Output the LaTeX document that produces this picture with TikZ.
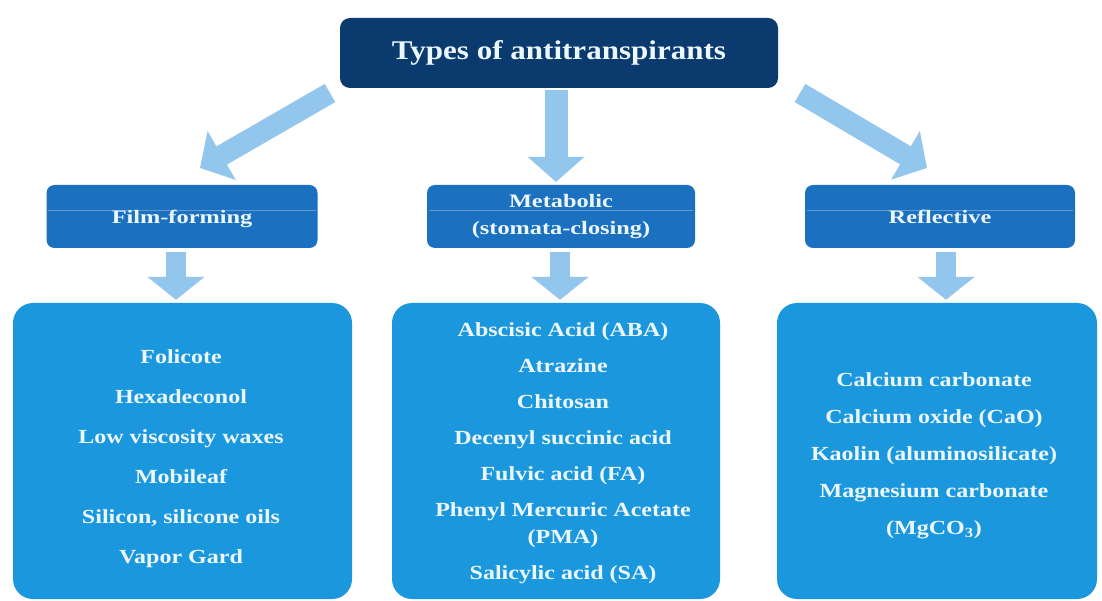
\documentclass[tikz,border=0pt]{standalone}
\usepackage{fontspec}
\setmainfont{Liberation Serif}
\usetikzlibrary{arrows.meta}
\definecolor{topc}{RGB}{11,58,110}
\definecolor{midc}{RGB}{27,112,191}
\definecolor{botc}{RGB}{27,152,221}
\definecolor{arrc}{RGB}{146,198,236}
\definecolor{txtc}{RGB}{236,247,253}
\tikzset{
  box/.style={rounded corners=#1, draw=none, inner sep=0pt},
  topbox/.style={box=10pt, fill=topc},
  midbox/.style={box=8pt, fill=midc},
  botbox/.style={box=20pt, fill=botc},
  txt/.style={text=txtc, align=center, inner sep=0pt},
  toptxt/.style={txt, font=\fontsize{27}{32}\selectfont\bfseries, xscale=1.15},
  midtxt/.style={txt, font=\fontsize{19}{27}\selectfont\bfseries, xscale=1.28},
  bottxt/.style={txt, xscale=1.2},
  bigarrow/.style={draw=arrc, line width=21pt, line cap=butt,
     -{Triangle[length=25pt,width=55pt]}},
  smallarrow/.style={draw=arrc, line width=20pt, line cap=butt,
     -{Triangle[length=23pt,width=56pt]}},
  gloss/.style={draw=white, opacity=0.3, line width=0.8pt}
}
\begin{document}
\begin{tikzpicture}[x=1pt,y=-1pt]
\useasboundingbox (0,0) rectangle (1102,601);
\fill[white] (0,0) rectangle (1102,601);

% top box
\node[topbox, minimum width=438pt, minimum height=70pt] (top) at (559,53) {};
\node[toptxt] (toptext) at (top.center) {Types of antitranspirants};

% middle boxes
\node[midbox, minimum width=271pt, minimum height=63pt] (film) at (182,216.5) {};
\node[midbox, minimum width=268pt, minimum height=63pt] (meta) at (561,216.5) {};
\node[midbox, minimum width=270pt, minimum height=63pt] (refl) at (940,216.5) {};
\draw[gloss] ([xshift=2pt,yshift=6pt]film.west) -- ([xshift=-2pt,yshift=6pt]film.east);
\draw[gloss] ([xshift=2pt,yshift=6pt]meta.west) -- ([xshift=-2pt,yshift=6pt]meta.east);
\draw[gloss] ([xshift=2pt,yshift=6pt]refl.west) -- ([xshift=-2pt,yshift=6pt]refl.east);
\node[midtxt] (filmtext) at ([yshift=-2pt]film.center) {Film-forming};
\node[midtxt] (metatext) at (meta.center) {Metabolic\\(stomata-closing)};
\node[midtxt] (refltext) at (refl.center) {Reflective};

% bottom boxes
\node[botbox, minimum width=339pt, minimum height=296pt] (filmlist) at (182.5,451) {};
\node[botbox, minimum width=328pt, minimum height=296pt] (metalist) at (556,451) {};
\node[botbox, minimum width=320pt, minimum height=296pt] (refllist) at (937,451) {};

\node[bottxt, font=\fontsize{20}{40}\selectfont\bfseries] (filmitems) at (181,459)
  {Folicote\\Hexadeconol\\Low viscosity waxes\\Mobileaf\\Silicon, silicone oils\\Vapor Gard};
\node[bottxt, font=\fontsize{20}{36}\selectfont\bfseries] (metaitems) at (563,453)
  {Abscisic Acid (ABA)\\Atrazine\\Chitosan\\Decenyl succinic acid\\Fulvic acid (FA)\\Phenyl Mercuric Acetate\\[-9pt](PMA)\\Salicylic acid (SA)};
\node[bottxt, font=\fontsize{20}{37}\selectfont\bfseries] (reflitems) at (934,456)
  {Calcium carbonate\\Calcium oxide (CaO)\\Kaolin (aluminosilicate)\\Magnesium carbonate\\(MgCO\textsubscript{3})};

% arrows from the top box
\coordinate (la0) at (330,93);
\coordinate (la1) at (200,168);
\coordinate (ra0) at (800,93);
\coordinate (ra1) at (927,168);
\coordinate (ca0) at (556,90);
\coordinate (ca1) at (556,182);
\draw[bigarrow] (la0) -- (la1);
\draw[bigarrow] (ra0) -- (ra1);
\draw[bigarrow, line width=23pt] (ca0) -- (ca1);

% arrows from the middle boxes
\coordinate (fs) at ([xshift=-6pt,yshift=-4pt]film.south);
\coordinate (ms) at ([xshift=-1pt,yshift=-4pt]meta.south);
\coordinate (rs) at ([xshift=6pt,yshift=-4pt]refl.south);
\draw[smallarrow] (fs) -- ([yshift=3pt]fs |- filmlist.north);
\draw[smallarrow] (ms) -- ([yshift=3pt]ms |- metalist.north);
\draw[smallarrow] (rs) -- ([yshift=3pt]rs |- refllist.north);
\end{tikzpicture}
\end{document}
